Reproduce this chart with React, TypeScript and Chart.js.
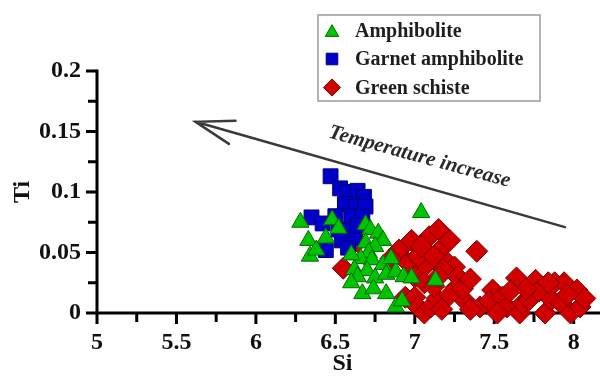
import React, { useEffect, useRef } from "react";
import { Chart, registerables } from "chart.js";

Chart.register(...registerables);

// ---- data ----
const amphSi = [6.28, 6.33, 6.34, 6.38, 6.48, 6.44, 6.52, 6.69, 6.72, 6.77, 6.80, 6.69, 6.75, 6.71, 6.66, 6.73, 6.80, 6.62, 6.70, 6.64, 6.75, 6.82, 6.88, 6.93, 6.98, 7.13, 7.04, 6.67, 6.74, 6.82, 6.88, 6.92, 6.60, 6.85, 6.60];
const amphTi = [0.075, 0.060, 0.047, 0.052, 0.077, 0.062, 0.070, 0.073, 0.069, 0.066, 0.060, 0.058, 0.055, 0.050, 0.045, 0.044, 0.040, 0.036, 0.035, 0.030, 0.029, 0.032, 0.034, 0.030, 0.029, 0.027, 0.083, 0.016, 0.020, 0.016, 0.005, 0.010, 0.048, 0.045, 0.025];

const garnetSi = [6.47, 6.53, 6.58, 6.64, 6.68, 6.56, 6.63, 6.69, 6.60, 6.67, 6.35, 6.42, 6.52, 6.58, 6.54, 6.62, 6.44, 6.58, 6.50, 6.64];
const garnetTi = [0.113, 0.103, 0.100, 0.101, 0.096, 0.090, 0.088, 0.088, 0.080, 0.080, 0.079, 0.074, 0.069, 0.068, 0.060, 0.062, 0.052, 0.054, 0.080, 0.072];

const schistSi = [6.55, 6.64, 6.90, 6.96, 7.06, 7.09, 7.15, 7.18, 7.02, 7.12, 7.21, 7.25, 7.18, 7.27, 7.39, 7.26, 7.31, 7.41, 7.49, 7.47, 7.55, 7.58, 7.64, 7.66, 7.68, 7.72, 7.76, 7.78, 7.82, 7.86, 7.88, 7.92, 7.94, 7.98, 8.02, 8.04, 8.07, 6.94, 7.00, 7.02, 7.06, 7.10, 7.14, 7.17, 7.22, 7.30, 7.35, 7.00, 7.06, 7.12, 6.98, 7.04, 7.22, 7.70, 7.84, 7.96, 7.60, 6.85, 7.15, 7.35, 7.52];
const schistTi = [0.037, 0.059, 0.052, 0.041, 0.038, 0.063, 0.069, 0.055, 0.047, 0.047, 0.041, 0.038, 0.036, 0.030, 0.051, 0.021, 0.011, 0.005, 0.019, 0.010, 0.013, 0.005, 0.029, 0.000, 0.008, 0.011, 0.027, 0.018, 0.000, 0.011, 0.025, 0.008, 0.025, 0.000, 0.019, 0.005, 0.012, 0.013, 0.013, 0.005, 0.000, 0.005, 0.012, 0.003, 0.015, 0.020, 0.003, 0.030, 0.025, 0.022, 0.060, 0.055, 0.060, 0.020, 0.025, 0.015, 0.018, 0.045, 0.030, 0.028, 0.000];

const seriesNames = ["Amphibolite", "Garnet amphibolite", "Green schiste"];
const xTitle = "Si";
const yTitle = "Ti";
const arrowText = "Temperature increase";
// arrow annotation in data units: tail and head
const arrowTail = [7.945, 0.071];
const arrowHead = [5.62, 0.158];
const arrowTextAt = [7.03, 0.129];

const X_MIN = 5, X_MAX = 8.09, X_STEP = 0.5, X_MINOR = 0.25;
const Y_MIN = 0, Y_MAX = 0.2, Y_STEP = 0.05, Y_MINOR = 0.025;

const SERIF = '"Liberation Serif", "Times New Roman", serif';

const toPts = (xs: number[], ys: number[]) => xs.map((x, i) => ({ x, y: ys[i] }));

const styles = [
  { fill: "#00c400", stroke: "#006a00", shape: "triangle", r: 10 },
  { fill: "#0000c8", stroke: "#00007a", shape: "rect", r: 10.5 },
  { fill: "#d00000", stroke: "#7a0000", shape: "rectRot", r: 11 },
];

const fmt = (v: number | string) => String(+Number(v).toFixed(3));

const axesPlugin = {
  id: "axesDraw",
  beforeDatasetsDraw(chart: any) {
    const { ctx, scales } = chart;
    const xs = scales.x, ys = scales.y;
    const x0 = xs.getPixelForValue(X_MIN);
    const y0 = ys.getPixelForValue(Y_MIN);
    const yTop = ys.getPixelForValue(Y_MAX);
    ctx.save();
    ctx.strokeStyle = "#000";
    ctx.lineWidth = 3;
    ctx.beginPath();
    ctx.moveTo(x0, y0 + 1.5);
    ctx.lineTo(x0, yTop - 1.5);
    ctx.moveTo(x0 - 1.5, y0);
    ctx.lineTo(chart.width, y0);
    ctx.stroke();
    ctx.beginPath();
    const ny = Math.round((Y_MAX - Y_MIN) / Y_MINOR);
    for (let i = 0; i <= ny; i++) {
      const v = Y_MIN + i * Y_MINOR;
      const p = ys.getPixelForValue(v);
      const len = i % 2 === 0 ? 11 : 9;
      ctx.moveTo(x0 - len, p);
      ctx.lineTo(x0, p);
    }
    const nx = Math.floor((X_MAX - X_MIN) / X_MINOR + 1e-9);
    for (let i = 0; i <= nx; i++) {
      const v = X_MIN + i * X_MINOR;
      const p = xs.getPixelForValue(v);
      const len = i % 2 === 0 ? 11 : 9;
      ctx.moveTo(p, y0);
      ctx.lineTo(p, y0 + len);
    }
    ctx.stroke();
    ctx.restore();
  },
};

function drawMarker(ctx: CanvasRenderingContext2D, shape: string, x: number, y: number, r: number) {
  ctx.beginPath();
  if (shape === "triangle") {
    for (let k = 0; k < 3; k++) {
      const a = (k * 2 * Math.PI) / 3;
      const px = x + Math.sin(a) * r;
      const py = y - Math.cos(a) * r;
      if (k === 0) ctx.moveTo(px, py);
      else ctx.lineTo(px, py);
    }
  } else if (shape === "rect") {
    const s = Math.SQRT1_2 * r;
    ctx.rect(x - s, y - s, 2 * s, 2 * s);
  } else {
    ctx.moveTo(x - r, y);
    ctx.lineTo(x, y - r);
    ctx.lineTo(x + r, y);
    ctx.lineTo(x, y + r);
  }
  ctx.closePath();
  ctx.fill();
  ctx.stroke();
}

const overlayPlugin = {
  id: "overlay",
  afterDatasetsDraw(chart: any) {
    const { ctx, scales } = chart;
    const xs = scales.x, ys = scales.y;
    // arrow
    const tx = xs.getPixelForValue(arrowTail[0]);
    const ty = ys.getPixelForValue(arrowTail[1]);
    const hx = xs.getPixelForValue(arrowHead[0]);
    const hy = ys.getPixelForValue(arrowHead[1]);
    const ang = Math.atan2(ty - hy, tx - hx);
    ctx.save();
    ctx.strokeStyle = "#3a3a3a";
    ctx.lineWidth = 2.5;
    ctx.lineCap = "round";
    ctx.beginPath();
    ctx.moveTo(tx, ty);
    ctx.lineTo(hx, hy);
    const L = 40, th = (17.5 * Math.PI) / 180;
    ctx.moveTo(hx + Math.cos(ang - th) * L, hy + Math.sin(ang - th) * L);
    ctx.lineTo(hx, hy);
    ctx.lineTo(hx + Math.cos(ang + th) * L, hy + Math.sin(ang + th) * L);
    ctx.stroke();
    // label
    const lx = xs.getPixelForValue(arrowTextAt[0]);
    const ly = ys.getPixelForValue(arrowTextAt[1]);
    ctx.translate(lx, ly);
    ctx.rotate(ang - 0.01);
    ctx.fillStyle = "#2a2a2a";
    ctx.font = `italic bold 21px ${SERIF}`;
    ctx.textAlign = "center";
    ctx.textBaseline = "middle";
    ctx.fillText(arrowText, 0, 0);
    ctx.restore();
  },
  afterDraw(chart: any) {
    const { ctx } = chart;
    ctx.save();
    const bx = 318, by = 15, bw = 222, bh = 86;
    ctx.fillStyle = "#fff";
    ctx.fillRect(bx, by, bw, bh);
    ctx.strokeStyle = "#9a9a9a";
    ctx.lineWidth = 1.5;
    ctx.strokeRect(bx, by, bw, bh);
    ctx.font = `bold 20px ${SERIF}`;
    ctx.textBaseline = "middle";
    ctx.textAlign = "left";
    seriesNames.forEach((name, i) => {
      const cy = 30.5 + i * 28.5;
      const st = styles[i];
      ctx.fillStyle = st.fill;
      ctx.strokeStyle = st.stroke;
      ctx.lineWidth = 1;
      drawMarker(ctx, st.shape, 332, st.shape === "triangle" ? cy + 2 : cy, st.r * 0.78);
      ctx.fillStyle = "#1e1e1e";
      ctx.fillText(name, 355, cy + 1);
    });
    ctx.restore();
  },
};

export default function App() {
  const ref = useRef<HTMLCanvasElement | null>(null);
  useEffect(() => {
    document.body.style.margin = "0";
    const canvas = ref.current;
    if (!canvas) return;
    const data = [toPts(amphSi, amphTi), toPts(garnetSi, garnetTi), toPts(schistSi, schistTi)];
    const chart = new Chart(canvas, {
      type: "scatter",
      data: {
        datasets: seriesNames.map((name, i) => ({
          label: name,
          data: data[i],
          pointStyle: styles[i].shape as any,
          pointRadius: styles[i].r,
          pointHoverRadius: styles[i].r,
          backgroundColor: styles[i].fill,
          borderColor: styles[i].stroke,
          borderWidth: 1,
          clip: false as any,
        })),
      },
      options: {
        animation: false,
        responsive: false,
        events: [],
        layout: { padding: { top: 71, right: 0, left: 0, bottom: 0 } },
        plugins: { legend: { display: false }, tooltip: { enabled: false } },
        scales: {
          x: {
            type: "linear",
            min: X_MIN,
            max: X_MAX,
            border: { display: false },
            grid: { display: false, drawTicks: false },
            ticks: {
              stepSize: X_STEP,
              includeBounds: false,
              autoSkip: false,
              maxRotation: 0,
              padding: 15,
              color: "#111",
              font: { family: SERIF, size: 24, weight: "bold" },
              callback: (v: any) => fmt(v),
            },
            title: {
              display: true,
              text: xTitle,
              color: "#111",
              font: { family: SERIF, size: 24, weight: "bold" },
              padding: { top: 0, bottom: -2 },
            },
            afterFit: (s: any) => {
              s.height = 63;
            },
          },
          y: {
            type: "linear",
            min: Y_MIN,
            max: Y_MAX,
            border: { display: false },
            grid: { display: false, drawTicks: false },
            ticks: {
              stepSize: Y_STEP,
              includeBounds: false,
              padding: 16,
              color: "#111",
              font: { family: SERIF, size: 24, weight: "bold" },
              callback: (v: any) => fmt(v),
            },
            title: {
              display: true,
              text: yTitle,
              color: "#111",
              font: { family: SERIF, size: 24, weight: "bold" },
              padding: { top: 8, bottom: 0 },
            },
            afterFit: (s: any) => {
              s.width = 97;
            },
          },
        },
      },
      plugins: [axesPlugin, overlayPlugin],
    });
    return () => chart.destroy();
  }, []);
  return (
    <div style={{ width: 600, height: 376 }}>
      <canvas ref={ref} width={600} height={376} style={{ display: "block" }} />
    </div>
  );
}
